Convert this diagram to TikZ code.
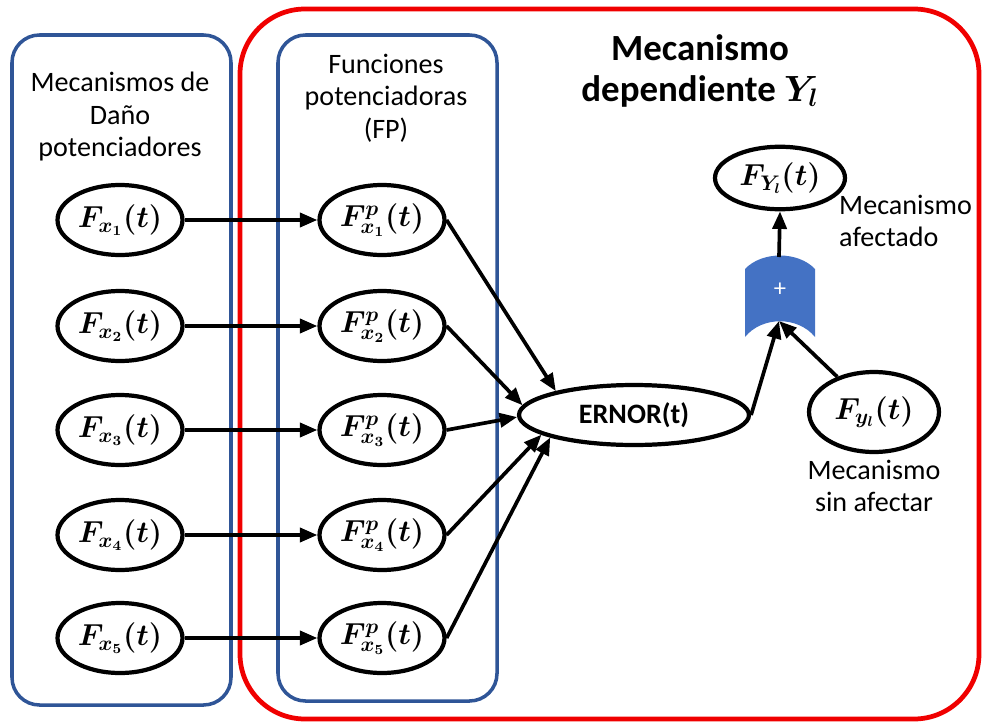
\documentclass[tikz,border=0pt]{standalone}
\usepackage{fontspec}
\usepackage{amsmath}
\usepackage{bm}
\setmainfont{Carlito}
\usetikzlibrary{arrows.meta, positioning, shapes.geometric}
\definecolor{boxblue}{HTML}{2F5597}
\definecolor{sumblue}{HTML}{4472C4}
\definecolor{groupred}{HTML}{F00000}

\begin{document}
\begin{tikzpicture}[
    x=0.02cm, y=-0.02cm,
    >={Triangle[length=10pt, width=8pt]},
    fnode/.style={draw, ellipse, line width=2.4pt, minimum width=2.5cm, minimum height=1.4cm, inner sep=0pt, font=\fontsize{17}{20}\selectfont},
    group/.style={draw=boxblue, line width=2pt, rounded corners=0.55cm},
    flow/.style={->, line width=2.1pt},
    label/.style={align=center, font=\fontsize{16}{18.5}\selectfont},
]
    \useasboundingbox (0,0) rectangle (983,723);

    % Groups
    \draw[draw=groupred, line width=2.7pt, rounded corners=1.3cm] (240,9) rectangle (979,719);
    \draw[group] (12,35) rectangle (231,705);
    \draw[group] (278,35) rectangle (497,701);

    % Group titles
    \node[label] (tdano) at (120,117) {Mecanismos de\\Daño\\potenciadores};
    \node[label] (tfp) at (386,98) {Funciones\\potenciadoras\\(FP)};
    \node[align=center, font=\fontsize{21}{23}\selectfont\bfseries] (tdep) at (700,71) {Mecanismo\\dependiente $\bm{Y_l}$};

    % Damage mechanisms and enhancing functions
    \foreach \i/\y in {1/220, 2/326, 3/430, 4/535, 5/638} {
        \node[fnode] (fx\i) at (120,\y) {$\bm{F_{x_{\i}}(t)}$};
        \node[fnode] (fp\i) at (382,\y) {$\bm{F^{p}_{x_{\i}}(t)}$};
        \draw[flow] (fx\i) -- (fp\i);
    }

    % Combination
    \node[fnode, minimum width=4.6cm, minimum height=1.2cm, font=\fontsize{16}{19}\selectfont\bfseries] (ernor) at (634,415) {ERNOR(t)};
    \draw[flow] (fp1.east) -- (ernor.163);
    \draw[flow] (fp2.east) -- (ernor.175);
    \draw[flow] (fp3.east) -- (ernor.181);
    \draw[flow] (fp4.east) -- (ernor.192);
    \draw[flow] (fp5.east) -- (ernor.195);

    % Sum block
    \fill[sumblue] (745,269) .. controls (762,251) and (798,251) .. (815,269) -- (815,337) .. controls (798,316) and (762,316) .. (745,337) -- cycle;
    \node[text=white, font=\fontsize{14}{16}\selectfont] (sum) at (780,290) {+};
    \coordinate (sumin) at (779,321);
    \coordinate (sumout) at (779,257);

    % Affected and unaffected mechanisms
    \node[fnode, minimum width=2.6cm, minimum height=1.25cm] (fY) at (780,178) {$\bm{F_{Y_l}(t)}$};
    \node[fnode, minimum width=2.6cm, minimum height=1.6cm] (fy) at (874,412) {$\bm{F_{y_l}(t)}$};
    \draw[flow] (ernor.east) -- (sumin);
    \draw[flow] (fy) -- (sumin);
    \draw[flow] (sumout) -- (fY.south);

    \node[label, align=left, anchor=west] (tafect) at (833,221) {Mecanismo\\afectado};
    \node[label] (tsin) at (874,486) {Mecanismo\\sin afectar};

\end{tikzpicture}
\end{document}
